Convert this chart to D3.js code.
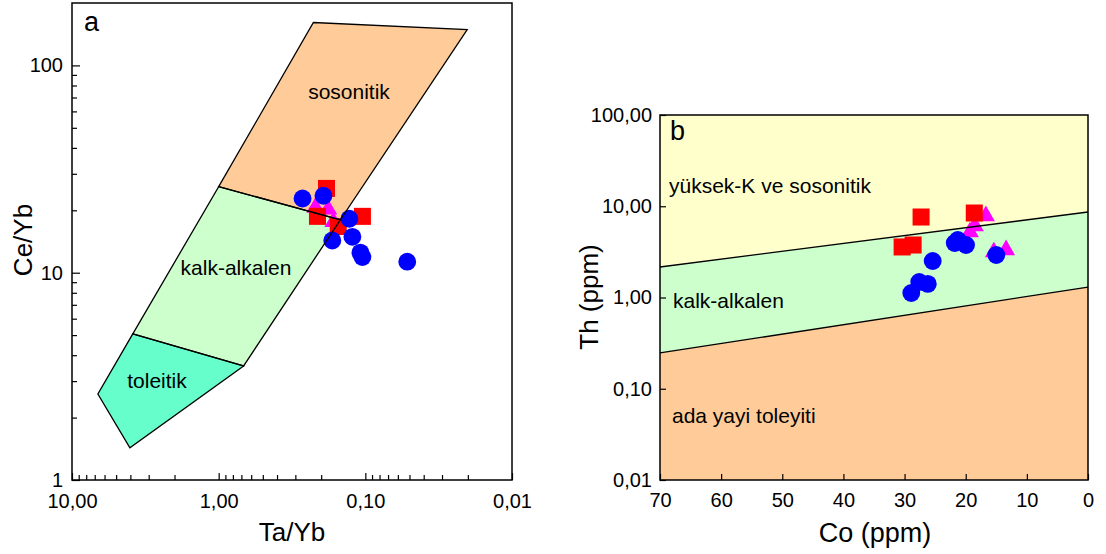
<!DOCTYPE html>
<html>
<head>
<meta charset="utf-8">
<script src="https://cdn.jsdelivr.net/npm/d3@7"></script>
<style>
body { margin: 0; background: #fff; }
text { font-family: "Liberation Sans", Arial, sans-serif; fill: #000; }
</style>
</head>
<body>
<svg id="chart" width="1106" height="554"></svg>
<script>
// ---- panel a data: Ta/Yb vs Ce/Yb ----
var aCircles = [[0.268, 22.8], [0.193, 23.5], [0.1285, 18.2], [0.168, 14.3], [0.1225, 14.9],
                [0.108, 12.5], [0.1047, 11.9], [0.0518, 11.3]];
var aSquares = [[0.184, 25.5], [0.212, 18.7], [0.1047, 18.7], [0.153, 16.7]];
var aTriangles = [[0.219, 20.6], [0.179, 20.2], [0.165, 17.6]];

var sosonitikField = [[1.0, 26.0], [0.226, 161], [0.0202, 149], [0.148, 18.0]];
var kalkField = [[1.0, 26.0], [0.148, 18.0], [0.676, 3.55], [3.85, 5.07]];
var toleitikField = [[3.85, 5.07], [0.676, 3.55], [4.03, 1.43], [6.66, 2.60]];

var aXMajor = [10, 1, 0.1, 0.01], aXLabels = ["10,00", "1,00", "0,10", "0,01"];
var aYMajor = [1, 10, 100], aYLabels = ["1", "10", "100"];

// ---- panel b data: Co vs Th ----
var bCircles = [[21.3, 4.27], [21.8, 3.96], [19.95, 3.76], [25.4, 2.51], [27.6, 1.48],
                [26.2, 1.41], [28.9, 1.12], [15.0, 2.92]];
var bSquares = [[27.3, 7.62], [18.6, 8.43], [30.4, 3.58], [28.6, 3.76]];
var bTriangles = [[16.7, 7.82], [18.5, 6.08], [19.3, 5.22], [15.4, 3.15], [13.4, 3.32]];

var upperLine = [[70, 2.16], [0, 8.65]];
var lowerLine = [[70, 0.247], [0, 1.30]];

var bXTicks = [70, 60, 50, 40, 30, 20, 10, 0];
var bYMajor = [0.01, 0.1, 1, 10, 100], bYLabels = ["0,01", "0,10", "1,00", "10,00", "100,00"];

var svg = d3.select("#chart");

// scales
var xA = d3.scaleLog().domain([10, 0.01]).range([72, 512]),
    yA = d3.scaleLog().domain([1, 200]).range([480, 3]);
var xB = d3.scaleLinear().domain([70, 0]).range([660, 1088]),
    yB = d3.scaleLog().domain([0.01, 100]).range([480, 115]);

function minors(lo, hi) {
  var out = [];
  for (var d = lo; d < hi; d *= 10)
    for (var k = 2; k <= 9; k++) out.push(+(k * d).toPrecision(3));
  return out;
}

var sym = {
  circle: d3.symbol().type(d3.symbolCircle).size(250),
  square: d3.symbol().type(d3.symbolSquare).size(290),
  triangle: d3.symbol().type(d3.symbolTriangle).size(140)
};

function drawPoints(g, pts, x, y, s, color) {
  g.selectAll(null).data(pts).enter().append("path")
    .attr("d", s)
    .attr("transform", function(d) { return "translate(" + x(d[0]) + "," + y(d[1]) + ")"; })
    .attr("fill", color);
}

// ================= panel a =================
var gA = svg.append("g");
var polyA = function(pts) { return "M" + pts.map(function(d) { return xA(d[0]) + "," + yA(d[1]); }).join("L") + "Z"; };

gA.append("rect").attr("x", 72).attr("y", 3).attr("width", 440).attr("height", 477).attr("fill", "#fff");

[[sosonitikField, "#ffcc99"], [kalkField, "#ccffcc"], [toleitikField, "#66ffcc"]].forEach(function(f) {
  gA.append("path").attr("d", polyA(f[0])).attr("fill", f[1]).attr("stroke", "none");
});

drawPoints(gA, aTriangles, xA, yA, sym.triangle, "#ff00ff");
drawPoints(gA, aSquares, xA, yA, sym.square, "#ff0000");
drawPoints(gA, aCircles, xA, yA, sym.circle, "#0000ff");

[sosonitikField, kalkField, toleitikField].forEach(function(f) {
  gA.append("path").attr("d", polyA(f)).attr("fill", "none").attr("stroke", "#000").attr("stroke-width", 1.3);
});

// axes a
gA.append("g").attr("transform", "translate(0,480)")
  .call(d3.axisBottom(xA).tickValues(aXMajor).tickSize(-7).tickPadding(14)
    .tickFormat(function(d, i) { return aXLabels[i]; }));
gA.append("g").attr("transform", "translate(0,480)")
  .call(d3.axisBottom(xA).tickValues(minors(0.01, 10)).tickSize(-5).tickFormat(""));
gA.append("g").attr("transform", "translate(72,0)")
  .call(d3.axisLeft(yA).tickValues(aYMajor).tickSize(-8).tickPadding(9)
    .tickFormat(function(d, i) { return aYLabels[i]; }));
gA.append("g").attr("transform", "translate(72,0)")
  .call(d3.axisLeft(yA).tickValues(minors(1, 100)).tickSize(-5).tickFormat(""));

gA.append("rect").attr("x", 72).attr("y", 3).attr("width", 440).attr("height", 477)
  .attr("fill", "none").attr("stroke", "#000").attr("stroke-width", 1.5);

gA.append("text").attr("x", 84).attr("y", 31).attr("font-size", 27).text("a");
gA.append("text").attr("x", 349).attr("y", 99).attr("font-size", 21).attr("text-anchor", "middle").text("sosonitik");
gA.append("text").attr("x", 236).attr("y", 275).attr("font-size", 21).attr("text-anchor", "middle").text("kalk-alkalen");
gA.append("text").attr("x", 157).attr("y", 388).attr("font-size", 21).attr("text-anchor", "middle").text("toleitik");

gA.append("text").attr("x", 292).attr("y", 541).attr("font-size", 26).attr("text-anchor", "middle").text("Ta/Yb");
gA.append("text").attr("transform", "translate(32,240) rotate(-90)").attr("font-size", 26)
  .attr("text-anchor", "middle").text("Ce/Yb");

// ================= panel b =================
var gB = svg.append("g");
var polyB = function(pts) { return "M" + pts.map(function(d) { return xB(d[0]) + "," + yB(d[1]); }).join("L") + "Z"; };
var yTop = yB.domain()[1], yBot = yB.domain()[0];

gB.append("path").attr("d", polyB([[70, yTop], [0, yTop], upperLine[1], upperLine[0]])).attr("fill", "#ffffcc");
gB.append("path").attr("d", polyB([upperLine[0], upperLine[1], lowerLine[1], lowerLine[0]])).attr("fill", "#ccffcc");
gB.append("path").attr("d", polyB([lowerLine[0], lowerLine[1], [0, yBot], [70, yBot]])).attr("fill", "#ffcc99");

drawPoints(gB, bTriangles, xB, yB, sym.triangle, "#ff00ff");
drawPoints(gB, bSquares, xB, yB, sym.square, "#ff0000");
drawPoints(gB, bCircles, xB, yB, sym.circle, "#0000ff");

var line = d3.line().x(function(d) { return xB(d[0]); }).y(function(d) { return yB(d[1]); });
[upperLine, lowerLine].forEach(function(l) {
  gB.append("path").attr("d", line(l)).attr("fill", "none").attr("stroke", "#000").attr("stroke-width", 1.3);
});

gB.append("g").attr("transform", "translate(0,480)")
  .call(d3.axisBottom(xB).tickValues(bXTicks).tickSize(-6).tickPadding(13).tickFormat(d3.format("d")));
gB.append("g").attr("transform", "translate(660,0)")
  .call(d3.axisLeft(yB).tickValues(bYMajor).tickSize(-6).tickPadding(8)
    .tickFormat(function(d, i) { return bYLabels[i]; }));

gB.append("rect").attr("x", 660).attr("y", 115).attr("width", 428).attr("height", 365)
  .attr("fill", "none").attr("stroke", "#000").attr("stroke-width", 1.5);

gB.append("text").attr("x", 670).attr("y", 140).attr("font-size", 27).text("b");
gB.append("text").attr("x", 669).attr("y", 193).attr("font-size", 21).text("yüksek-K ve sosonitik");
gB.append("text").attr("x", 673).attr("y", 308).attr("font-size", 21).text("kalk-alkalen");
gB.append("text").attr("x", 672).attr("y", 423).attr("font-size", 21).text("ada yayi toleyiti");

gB.append("text").attr("x", 875).attr("y", 542).attr("font-size", 27).attr("text-anchor", "middle").text("Co (ppm)");
gB.append("text").attr("transform", "translate(598,297) rotate(-90)").attr("font-size", 26)
  .attr("text-anchor", "middle").text("Th (ppm)");

// axis styling
svg.selectAll(".domain").attr("stroke", "none");
svg.selectAll(".tick line").attr("stroke", "#000").attr("stroke-width", 1.2);
svg.selectAll(".tick text").attr("font-size", 20).attr("font-family", "Liberation Sans, Arial, sans-serif").attr("fill", "#000");
</script>
</body>
</html>
